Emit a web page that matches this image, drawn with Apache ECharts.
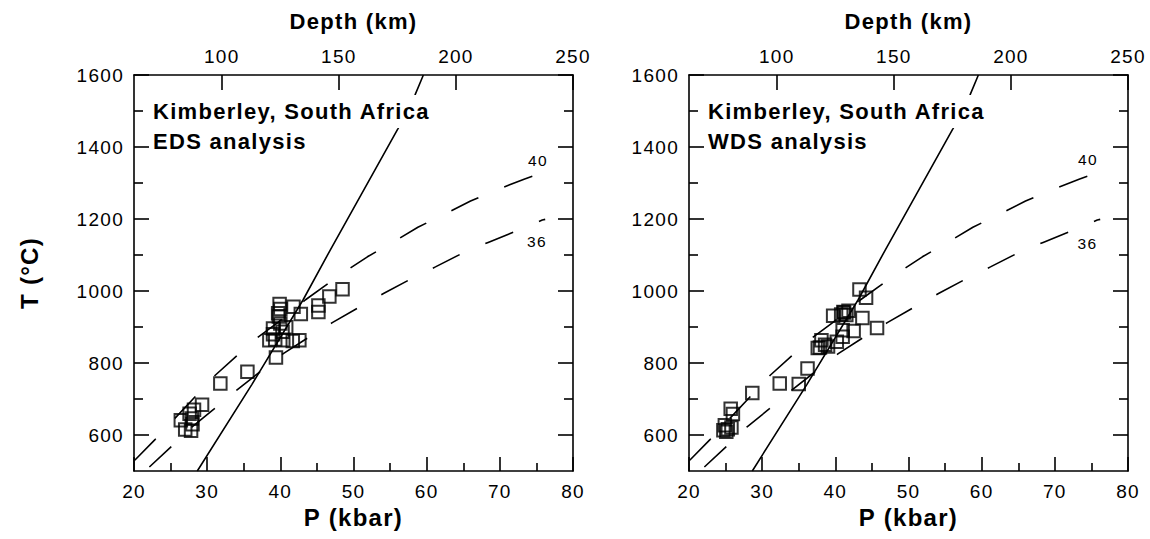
<!DOCTYPE html>
<html><head><meta charset="utf-8">
<script src="https://cdn.jsdelivr.net/npm/echarts@6/dist/echarts.min.js"></script>
<style>
html,body{margin:0;padding:0;background:#fff;}
#chart{width:1150px;height:539px;}
#chart svg text{letter-spacing:1.3px;}
</style></head><body><div id="chart"></div>
<script>
// ---- data ----
const pRange = [20, 80];                 // kbar
const depthRange = [62.5, 250];          // km (same extent as pRange)
const depthTicks = [100, 150, 200, 250];
const tRange = [500, 1600];
const tMajor = [600, 800, 1000, 1200, 1400, 1600];
const tMinor = [700, 900, 1100, 1300, 1500];

const edsPoints = [
  [26.4,641],[27.0,615],[27.8,612],[27.6,659],[28.2,670],[29.3,684],[27.9,646],[28.0,630],
  [31.8,743],[35.5,776],
  [39.9,964],[41.8,956],[42.8,936],[45.2,960],[45.2,942],[46.7,985],[48.5,1005],
  [39.8,929],[39.7,938],[39.0,896],[40.8,899],[40.0,910],[40.0,950],
  [38.5,863],[39.3,865],[40.4,863],[41.7,861],[42.6,863],[39.4,815],[39.0,880],[40.3,887]
];
const wdsPoints = [
  [24.7,613],[25.1,609],[24.9,627],[25.8,621],[25.3,616],[25.7,673],[26.0,658],
  [28.65,717],[32.4,743],[35.0,742],[36.2,785],
  [37.6,842],[38.1,863],[38.6,851],[39.0,846],[37.9,843],
  [39.7,931],[41.1,942],[41.5,933],[41.2,940],[41.8,945],[40.8,935],[43.7,925],[45.7,897],
  [41.0,891],[41.0,873],[42.5,889],[40.2,859],
  [43.3,1004],[44.2,981]
];
const geotherm40 = [
  [20.1,530],[22.9,588],[31.1,766],[34.0,819],[36.9,871],[39.5,910],[43.4,975],[48.6,1051],
  [51.9,1095],[55.5,1137],[58.8,1177],[62.5,1214],[66.0,1250],[69.8,1283],[73.4,1311],[76.2,1331]
];
const geotherm36 = [
  [22.1,511],[25.15,569],[27.9,622],[31.0,673],[34.0,724],[37.2,775],[40.4,826],[43.85,871],
  [47.1,912],[50.7,954],[54.1,993],[57.7,1032],[61.2,1067],[64.8,1104],[68.4,1135],[72.3,1167],
  [75.8,1197],[76.2,1199]
];
const graphiteDiamond = [
  [28.65,500],[36.1,740],[43.1,975],[46.8,1113],[56.1,1452],[58.4,1544],[59.55,1600]
];
const panelTitles = ['Kimberley, South Africa', 'Kimberley, South Africa'];
const panelSubtitles = ['EDS analysis', 'WDS analysis'];
const geothermLabels = ['40', '36'];

// ---- chart ----
const FONT = 'Liberation Sans, Arial, Helvetica, sans-serif';
const BLACK = '#000';
const lw = 1.6;
const plain = v => String(v);

function xAxesFor(g) {
  return [
    {
      gridIndex: g, type: 'value', position: 'bottom', min: pRange[0], max: pRange[1], interval: 10,
      axisLine: { show: true, onZero: false, lineStyle: { color: BLACK, width: lw } },
      axisTick: { show: true, inside: true, length: 14, lineStyle: { color: BLACK, width: lw } },
      minorTick: { show: true, splitNumber: 2, length: 8, lineStyle: { color: BLACK, width: lw } },
      splitLine: { show: false }, minorSplitLine: { show: false },
      axisLabel: { color: BLACK, fontSize: 19, fontFamily: FONT, margin: 11, formatter: plain },
      name: 'P (kbar)', nameLocation: 'middle', nameGap: 34, nameMoveOverlap: false,
      nameTextStyle: { color: BLACK, fontSize: 24, fontWeight: 'bold', fontFamily: FONT }
    },
    {
      gridIndex: g, type: 'value', position: 'top', min: depthRange[0], max: depthRange[1],
      axisLine: { show: true, onZero: false, lineStyle: { color: BLACK, width: lw } },
      axisTick: { show: true, inside: true, length: 15, customValues: depthTicks, lineStyle: { color: BLACK, width: lw } },
      splitLine: { show: false },
      axisLabel: { color: BLACK, fontSize: 19, fontFamily: FONT, margin: 9, customValues: depthTicks, formatter: plain },
      name: 'Depth (km)', nameLocation: 'middle', nameGap: 43, nameMoveOverlap: false,
      nameTextStyle: { color: BLACK, fontSize: 22, fontWeight: 'bold', fontFamily: FONT }
    }
  ];
}

function yAxesFor(g) {
  const base = { gridIndex: g, type: 'value', min: tRange[0], max: tRange[1], splitLine: { show: false } };
  return [
    Object.assign({}, base, {
      position: 'left',
      axisLine: { show: true, onZero: false, lineStyle: { color: BLACK, width: lw } },
      axisTick: { show: true, inside: true, length: 15, customValues: tMajor, lineStyle: { color: BLACK, width: lw } },
      axisLabel: { color: BLACK, fontSize: 19, fontFamily: FONT, margin: 10, customValues: tMajor, formatter: plain },
      name: g === 0 ? 'T (°C)' : '', nameLocation: 'middle', nameRotate: 90, nameGap: 93, nameMoveOverlap: false,
      nameTextStyle: { color: BLACK, fontSize: 24, fontWeight: 'bold', fontFamily: FONT }
    }),
    Object.assign({}, base, {
      position: 'left',
      axisLine: { show: false },
      axisTick: { show: true, inside: true, length: 9, customValues: tMinor, lineStyle: { color: BLACK, width: lw } },
      axisLabel: { show: false }
    }),
    Object.assign({}, base, {
      position: 'right',
      axisLine: { show: true, onZero: false, lineStyle: { color: BLACK, width: lw } },
      axisTick: { show: true, inside: true, length: 15, customValues: tMajor, lineStyle: { color: BLACK, width: lw } },
      axisLabel: { show: false }
    }),
    Object.assign({}, base, {
      position: 'right',
      axisLine: { show: false },
      axisTick: { show: true, inside: true, length: 9, customValues: tMinor, lineStyle: { color: BLACK, width: lw } },
      axisLabel: { show: false }
    })
  ];
}

function seriesFor(g, points) {
  const xi = g * 2, yi = g * 4;
  const lineBase = {
    type: 'line', xAxisIndex: xi, yAxisIndex: yi, showSymbol: false, symbol: 'none',
    silent: true, animation: false, z: 2
  };
  return [
    Object.assign({}, lineBase, { data: geotherm40, lineStyle: { color: BLACK, width: lw, type: [30, 28] } }),
    Object.assign({}, lineBase, { data: geotherm36, lineStyle: { color: BLACK, width: lw, type: [30, 28] } }),
    Object.assign({}, lineBase, { data: graphiteDiamond, lineStyle: { color: BLACK, width: lw, type: 'solid' } }),
    {
      type: 'scatter', xAxisIndex: xi, yAxisIndex: yi, data: points, symbol: 'rect', symbolSize: 12.5,
      itemStyle: { color: 'rgba(0,0,0,0)', borderColor: BLACK, borderWidth: 2 },
      silent: true, animation: false, z: 3
    }
  ];
}

const gridLefts = [134, 689];
const option = {
  backgroundColor: '#fff',
  animation: false,
  grid: gridLefts.map(l => ({ left: l, top: 75, width: 439, height: 396, outerBoundsMode: 'none', containLabel: false })),
  xAxis: [].concat(xAxesFor(0), xAxesFor(1)),
  yAxis: [].concat(yAxesFor(0), yAxesFor(1)),
  series: [].concat(seriesFor(0, edsPoints), seriesFor(1, wdsPoints)),
  graphic: []
};

gridLefts.forEach((l, i) => {
  option.graphic.push(
    { type: 'text', x: l + 15, y: 111.5, z: 100, silent: true,
      style: { text: panelTitles[i], fontSize: 22, fontWeight: 'bold', fontFamily: FONT, fill: BLACK,
               verticalAlign: 'middle', align: 'left', backgroundColor: '#fff', padding: [7, 16, 4, 4] } },
    { type: 'text', x: l + 19, y: 141, z: 100, silent: true,
      style: { text: panelSubtitles[i], fontSize: 22, fontWeight: 'bold', fontFamily: FONT, fill: BLACK,
               verticalAlign: 'middle', align: 'left' } }
  );
});
[[538, 160.5, 1088, 159], [537, 241.5, 1087.5, 243]].forEach((pos, k) => {
  option.graphic.push(
    { type: 'text', x: pos[0], y: pos[1], z: 100, silent: true, style: { text: geothermLabels[k], fontSize: 15.5, fontFamily: FONT, fill: BLACK, align: 'center', verticalAlign: 'middle' } },
    { type: 'text', x: pos[2], y: pos[3], z: 100, silent: true, style: { text: geothermLabels[k], fontSize: 15.5, fontFamily: FONT, fill: BLACK, align: 'center', verticalAlign: 'middle' } }
  );
});

const chart = echarts.init(document.getElementById('chart'), null, { renderer: 'svg', width: 1150, height: 539 });
chart.setOption(option);
</script>
</body></html>
